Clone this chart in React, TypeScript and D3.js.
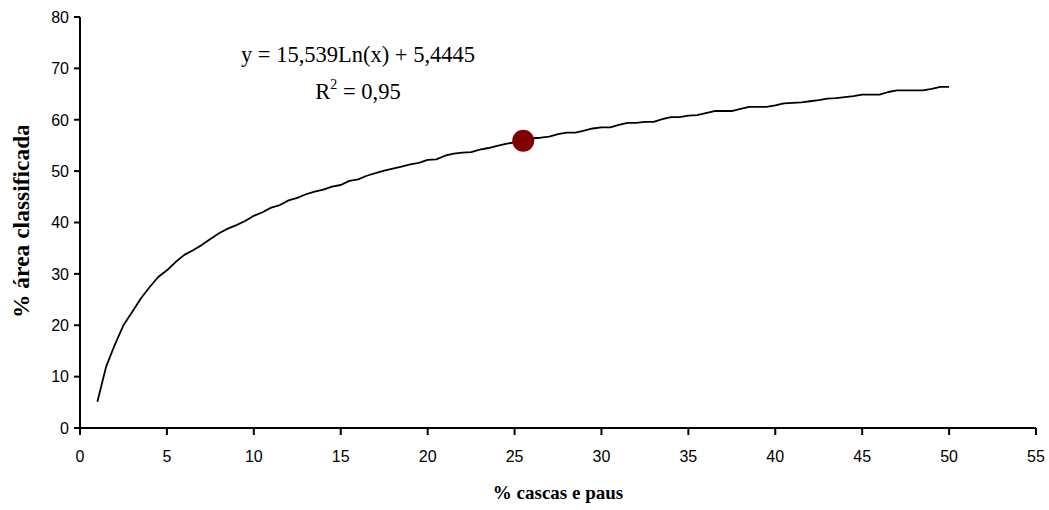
import React from "react";
import * as d3 from "d3";

const xValues: number[] = [
  1, 1.5, 2, 2.5, 3, 3.5, 4, 4.5, 5, 5.5, 6, 6.5, 7, 7.5, 8, 8.5, 9, 9.5, 10,
  10.5, 11, 11.5, 12, 12.5, 13, 13.5, 14, 14.5, 15, 15.5, 16, 16.5, 17, 17.5,
  18, 18.5, 19, 19.5, 20, 20.5, 21, 21.5, 22, 22.5, 23, 23.5, 24, 24.5, 25,
  25.5, 26, 26.5, 27, 27.5, 28, 28.5, 29, 29.5, 30, 30.5, 31, 31.5, 32, 32.5,
  33, 33.5, 34, 34.5, 35, 35.5, 36, 36.5, 37, 37.5, 38, 38.5, 39, 39.5, 40,
  40.5, 41, 41.5, 42, 42.5, 43, 43.5, 44, 44.5, 45, 45.5, 46, 46.5, 47, 47.5,
  48, 48.5, 49, 49.5, 50,
];

const yValues: number[] = [
  5.1, 11.9, 16.2, 20.0, 22.6, 25.2, 27.4, 29.4, 30.7, 32.3, 33.7, 34.6, 35.6,
  36.8, 37.9, 38.8, 39.5, 40.3, 41.3, 42.0, 42.9, 43.4, 44.3, 44.8, 45.5, 46.0,
  46.4, 47.0, 47.3, 48.1, 48.4, 49.1, 49.6, 50.1, 50.5, 50.9, 51.3, 51.6, 52.2,
  52.3, 53.0, 53.4, 53.6, 53.7, 54.2, 54.5, 54.9, 55.3, 55.6, 55.9, 56.4, 56.5,
  56.7, 57.2, 57.5, 57.5, 57.9, 58.3, 58.5, 58.5, 59.0, 59.4, 59.4, 59.6, 59.6,
  60.1, 60.5, 60.5, 60.8, 60.9, 61.3, 61.7, 61.7, 61.7, 62.1, 62.5, 62.5, 62.5,
  62.8, 63.2, 63.3, 63.4, 63.6, 63.8, 64.1, 64.2, 64.4, 64.6, 64.9, 64.9, 64.9,
  65.4, 65.7, 65.7, 65.7, 65.7, 66.0, 66.4, 66.4,
];

const highlightX: number[] = [25.5];
const highlightY: number[] = [55.9];

const xTicks: number[] = [0, 5, 10, 15, 20, 25, 30, 35, 40, 45, 50, 55];
const yTicks: number[] = [0, 10, 20, 30, 40, 50, 60, 70, 80];

const equationText = "y = 15,539Ln(x) + 5,4445";
const r2Label = "R";
const r2Value = " = 0,95";
const xTitle = "% cascas e paus";
const yTitle = "% área classificada";

export default function App() {
  const W = 1049;
  const H = 510;
  const x = d3.scaleLinear().domain([0, 55]).range([80, 1036]);
  const y = d3.scaleLinear().domain([0, 80]).range([428, 17]);
  const pts = xValues.map((v, i) => [v, yValues[i]] as [number, number]);
  const line = d3
    .line<[number, number]>()
    .x((d) => x(d[0]))
    .y((d) => y(d[1]));

  const axisFont = "'Liberation Sans', Arial, sans-serif";
  const serif = "'Liberation Serif', 'Times New Roman', serif";

  return (
    <svg
      width={W}
      height={H}
      style={{ position: "absolute", left: 0, top: 0, background: "#fff" }}
    >
      <defs>
        <clipPath id="ytitleclip">
          <rect x={0} y={126} width={60} height={300} />
        </clipPath>
      </defs>
      <rect x={0} y={0} width={W} height={H} fill="#fff" />
      <line x1={x(0)} x2={x(0)} y1={y(80)} y2={y(0)} stroke="#000" strokeWidth={2} />
      <line x1={x(0)} x2={x(55)} y1={y(0)} y2={y(0)} stroke="#000" strokeWidth={2} />
      {yTicks.map((t) => (
        <g key={"y" + t}>
          <line x1={x(0) - 6} x2={x(0)} y1={y(t)} y2={y(t)} stroke="#000" strokeWidth={2} />
          <text
            x={x(0) - 11}
            y={y(t)}
            dy="0.36em"
            textAnchor="end"
            fontFamily={axisFont}
            fontSize={16}
          >
            {t}
          </text>
        </g>
      ))}
      {xTicks.map((t) => (
        <g key={"x" + t}>
          <line x1={x(t)} x2={x(t)} y1={y(0)} y2={y(0) + 7} stroke="#000" strokeWidth={2} />
          <text
            x={x(t)}
            y={y(0) + 34}
            textAnchor="middle"
            fontFamily={axisFont}
            fontSize={16}
          >
            {t}
          </text>
        </g>
      ))}
      <path d={line(pts) || ""} fill="none" stroke="#000" strokeWidth={1.8} strokeLinejoin="round" />
      {highlightX.map((v, i) => (
        <circle key={"h" + i} cx={x(v)} cy={y(highlightY[i])} r={11} fill="#800000" />
      ))}
      <text x={358} y={62} textAnchor="middle" fontFamily={serif} fontSize={22.5}>
        {equationText}
      </text>
      <text x={358} y={99} textAnchor="middle" fontFamily={serif} fontSize={22.5}>
        {r2Label}
        <tspan dy={-10} fontSize={14}>2</tspan>
        <tspan dy={10}>{r2Value}</tspan>
      </text>
      <text
        x={558}
        y={499}
        textAnchor="middle"
        fontFamily={serif}
        fontWeight="bold"
        fontSize={19}
      >
        {xTitle}
      </text>
      <g clipPath="url(#ytitleclip)">
        <text
          transform="translate(29,318) rotate(-90)"
          textAnchor="start"
          fontFamily={serif}
          fontWeight="bold"
          fontSize={23.5}
        >
          {yTitle}
        </text>
      </g>
    </svg>
  );
}
